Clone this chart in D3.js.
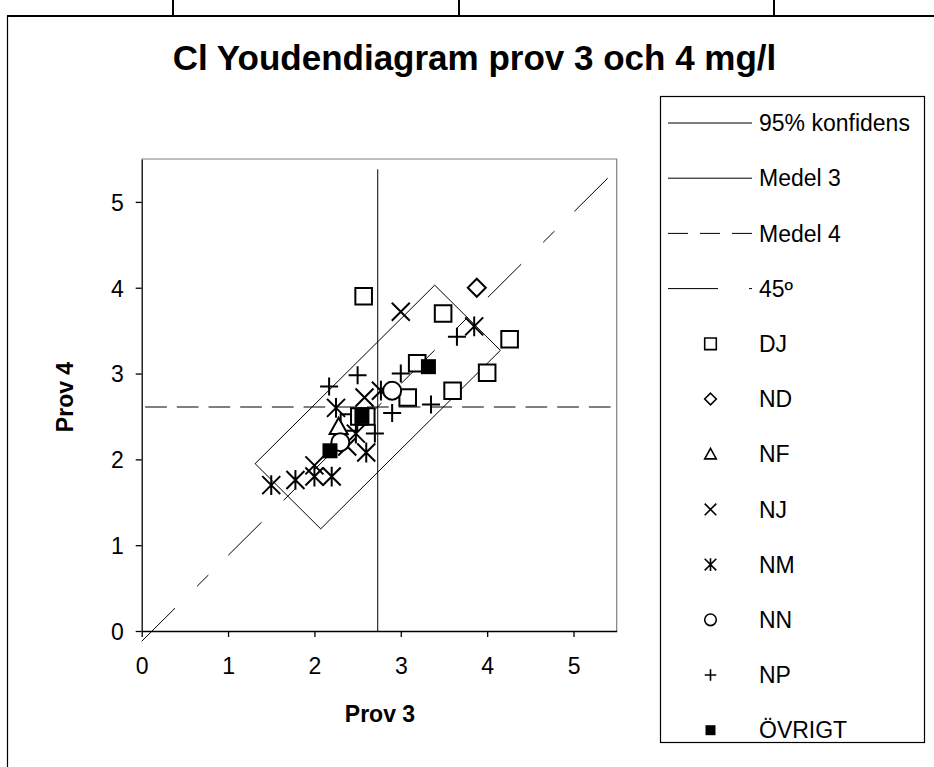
<!DOCTYPE html>
<html>
<head>
<meta charset="utf-8">
<script src="https://cdn.jsdelivr.net/npm/d3@7"></script>
<style>
  body { margin: 0; background: #fff; }
  svg { display: block; font-family: "Liberation Sans", Arial, sans-serif; }
</style>
</head>
<body>
<div id="container"></div>
<script>
// Chart texts
const chartTitle = "Cl Youdendiagram prov 3 och 4 mg/l";
const xTitle = "Prov 3";
const yTitle = "Prov 4";
const xTicks = [0, 1, 2, 3, 4, 5];
const yTicks = [0, 1, 2, 3, 4, 5];
const axisDomain = [0, 5.5];

// Reference lines (Prov 3, Prov 4)
const medel3 = 2.733;
const medel3Span = [0, 5.38];
const medel4 = 2.61;
const line45 = [[0, -0.12], [5.43, 5.31]];
const confBox = [[1.313, 1.95], [3.393, 4.03], [4.153, 3.27], [2.073, 1.19], [1.313, 1.95]];

// Lab groups, [prov 3, prov 4]
const seriesNames = ["DJ", "ND", "NF", "NJ", "NM", "NN", "NP", "ÖVRIGT"];
const dj = [[2.57, 3.90], [3.49, 3.70], [4.26, 3.40], [4.00, 3.01], [3.60, 2.80], [3.19, 3.12],
            [3.08, 2.72], [2.40, 2.43], [2.52, 2.50], [2.60, 2.50]];
const nd = [[3.88, 4.00]];
const nf = [[2.28, 2.38]];
const nj = [[3.00, 3.72], [2.58, 2.72], [2.00, 1.93], [2.38, 2.15]];
const nm = [[1.50, 1.70], [1.78, 1.76], [2.00, 1.80], [2.20, 1.80], [2.60, 2.08], [3.85, 3.55],
            [2.77, 2.80], [2.25, 2.60], [2.48, 2.30]];
const nn = [[2.30, 2.20], [2.90, 2.80]];
const np = [[2.17, 2.85], [2.50, 2.98], [3.00, 3.00], [3.65, 3.43], [2.90, 2.54], [3.35, 2.64], [2.70, 2.30]];
const ovrigt = [[2.18, 2.10], [3.32, 3.08], [2.55, 2.50]];
const seriesValues = [dj, nd, nf, nj, nm, nn, np, ovrigt];

// Legend line entries
const legendLineNames = ["95% konfidens", "Medel 3", "Medel 4", "45º"];

// Marker look per series
const MARKER_SHAPE = {
    "DJ": "square", "ND": "diamond", "NF": "triangle", "NJ": "cross",
    "NM": "asterisk", "NN": "circle", "NP": "plus", "ÖVRIGT": "filled"
};

const DASH_MEDEL4 = "21.7,10";
const DASH_45 = "47,31,16,28";

function markerPath(shape, s)
{
    switch (shape) {
        case "square":
        case "filled":
            return `M${-s},${-s}H${s}V${s}H${-s}Z`;
        case "diamond":
            return `M0,${-s}L${s},0L0,${s}L${-s},0Z`;
        case "triangle":
            return `M0,${-s}L${s},${s * 0.8}L${-s},${s * 0.8}Z`;
        case "cross":
            return `M${-s},${-s}L${s},${s}M${-s},${s}L${s},${-s}`;
        case "asterisk":
            return `M${-s},${-s}L${s},${s}M${-s},${s}L${s},${-s}M0,${-s * 1.1}L0,${s * 1.1}`;
        case "plus":
            return `M${-s},0H${s}M0,${-s}V${s}`;
        case "circle":
            return d3.arc()({ innerRadius: 0, outerRadius: s, startAngle: 0, endAngle: 2 * Math.PI });
    }
}

function drawMarker(g, shape, s, strokeWidth)
{
    let filled = shape === "filled";
    let closed = ["square", "diamond", "triangle", "circle"].includes(shape);
    g.append("path")
        .attr("d", markerPath(shape, s))
        .attr("fill", filled ? "#000" : (closed ? "#fff" : "none"))
        .attr("stroke", filled ? "none" : "#000")
        .attr("stroke-width", strokeWidth);
}

const W = 934, H = 767;
const svg = d3.select("#container")
    .append("svg")
    .attr("width", W)
    .attr("height", H);

// Sheet cell borders around the chart object
svg.append("path")
    .attr("d", "M7,16H934 M173,0V16 M459,0V16 M774,0V16")
    .attr("stroke", "#000").attr("stroke-width", 2).attr("fill", "none");
svg.append("line")
    .attr("x1", 7.5).attr("x2", 7.5).attr("y1", 16).attr("y2", H)
    .attr("stroke", "#000").attr("stroke-width", 1.2);

// Title
svg.append("text")
    .attr("x", 474.5)
    .attr("y", 70)
    .attr("text-anchor", "middle")
    .style("font-size", "35px")
    .style("font-weight", "bold")
    .text(chartTitle);

// Plot area
const plot = { left: 141.7, top: 159, right: 616.7, bottom: 631 };

var x = d3.scaleLinear().domain(axisDomain).range([plot.left, plot.right]);
var y = d3.scaleLinear().domain(axisDomain).range([plot.bottom, plot.top]);

// Plot area frame (grey top / right)
svg.append("path")
    .attr("d", `M${plot.left},${plot.top}H${plot.right}V${plot.bottom}`)
    .attr("fill", "none")
    .attr("stroke", "#808080")
    .attr("stroke-width", 1.2);

// Axes
var xAxis = svg.append("g")
    .attr("transform", "translate(0," + plot.bottom + ")")
    .call(d3.axisBottom(x).tickValues(xTicks).tickFormat(d3.format("d"))
        .tickSize(6).tickSizeOuter(0));
var yAxis = svg.append("g")
    .attr("transform", "translate(" + plot.left + ",0)")
    .call(d3.axisLeft(y).tickValues(yTicks).tickFormat(d3.format("d"))
        .tickSize(6).tickSizeOuter(0));

[xAxis, yAxis].forEach(a => {
    a.selectAll("path, line").attr("stroke", "#000").attr("stroke-width", 1.3);
    a.selectAll("text")
        .attr("fill", "#000")
        .style("font-family", "'Liberation Sans', Arial, sans-serif")
        .style("font-size", "23px");
});
xAxis.selectAll("text").attr("dy", null).attr("y", 43);
yAxis.selectAll("text").attr("dy", "0.36em").attr("x", -18);

// Axis titles
svg.append("text")
    .attr("x", 380)
    .attr("y", 722)
    .attr("text-anchor", "middle")
    .style("font-size", "23px")
    .style("font-weight", "bold")
    .text(xTitle);
svg.append("text")
    .attr("transform", "translate(73,397) rotate(-90)")
    .attr("text-anchor", "middle")
    .style("font-size", "23px")
    .style("font-weight", "bold")
    .text(yTitle);

var line = d3.line().x(d => x(d[0])).y(d => y(d[1]));

// 95% confidence box
svg.append("path")
    .datum(confBox)
    .attr("d", line)
    .attr("fill", "none")
    .attr("stroke", "#000")
    .attr("stroke-width", 1);

// Medel 3 (vertical)
svg.append("path")
    .datum(medel3Span.map(v => [medel3, v]))
    .attr("d", line)
    .attr("stroke", "#000")
    .attr("stroke-width", 1);

// Medel 4 (horizontal, dashed)
svg.append("path")
    .datum(axisDomain.map(v => [v, medel4]))
    .attr("d", line)
    .attr("stroke", "#000")
    .attr("stroke-width", 1)
    .attr("stroke-dasharray", DASH_MEDEL4)
    .attr("stroke-dashoffset", -3.4);

// 45 degree line
svg.append("path")
    .datum(line45)
    .attr("d", line)
    .attr("stroke", "#000")
    .attr("stroke-width", 1)
    .attr("stroke-dasharray", DASH_45);

// Markers
seriesNames.forEach((name, i) => {
    let shape = MARKER_SHAPE[name];
    let size = shape === "filled" ? 7.5 : (shape === "square" ? 8.3 : 9);
    seriesValues[i].forEach(p => {
        let g = svg.append("g")
            .attr("transform", "translate(" + x(p[0]) + "," + y(p[1]) + ")");
        drawMarker(g, shape, size, 2);
    });
});

// Legend
const legend = { left: 660, top: 96, right: 924, bottom: 742, row0: 123, step: 55.2 };
svg.append("rect")
    .attr("x", legend.left + 0.5)
    .attr("y", legend.top + 0.5)
    .attr("width", legend.right - legend.left)
    .attr("height", legend.bottom - legend.top)
    .attr("fill", "#fff")
    .attr("stroke", "#000")
    .attr("stroke-width", 1.2);

var rowY = i => legend.row0 + i * legend.step;
var legendText = (label, i) => svg.append("text")
    .attr("x", 759)
    .attr("y", rowY(i))
    .attr("dy", "0.36em")
    .style("font-size", "23px")
    .text(label);

legendLineNames.forEach((label, i) => {
    let ly = rowY(i);
    if (i < 3) {
        svg.append("line")
            .attr("x1", 668).attr("x2", 752)
            .attr("y1", ly).attr("y2", ly)
            .attr("stroke", "#000").attr("stroke-width", 1)
            .attr("stroke-dasharray", i === 2 ? "20,12" : null);
    } else {
        svg.append("path")
            .attr("d", `M668,${ly}H718 M749,${ly}H752`)
            .attr("stroke", "#000").attr("stroke-width", 1);
    }
    legendText(label, i);
});

seriesNames.forEach((name, i) => {
    let row = legendLineNames.length + i;
    let shape = MARKER_SHAPE[name];
    let g = svg.append("g")
        .attr("transform", "translate(710.5," + rowY(row) + ")");
    drawMarker(g, shape, shape === "filled" ? 5 : 5.8, 1.6);
    legendText(name, row);
});
</script>
</body>
</html>
